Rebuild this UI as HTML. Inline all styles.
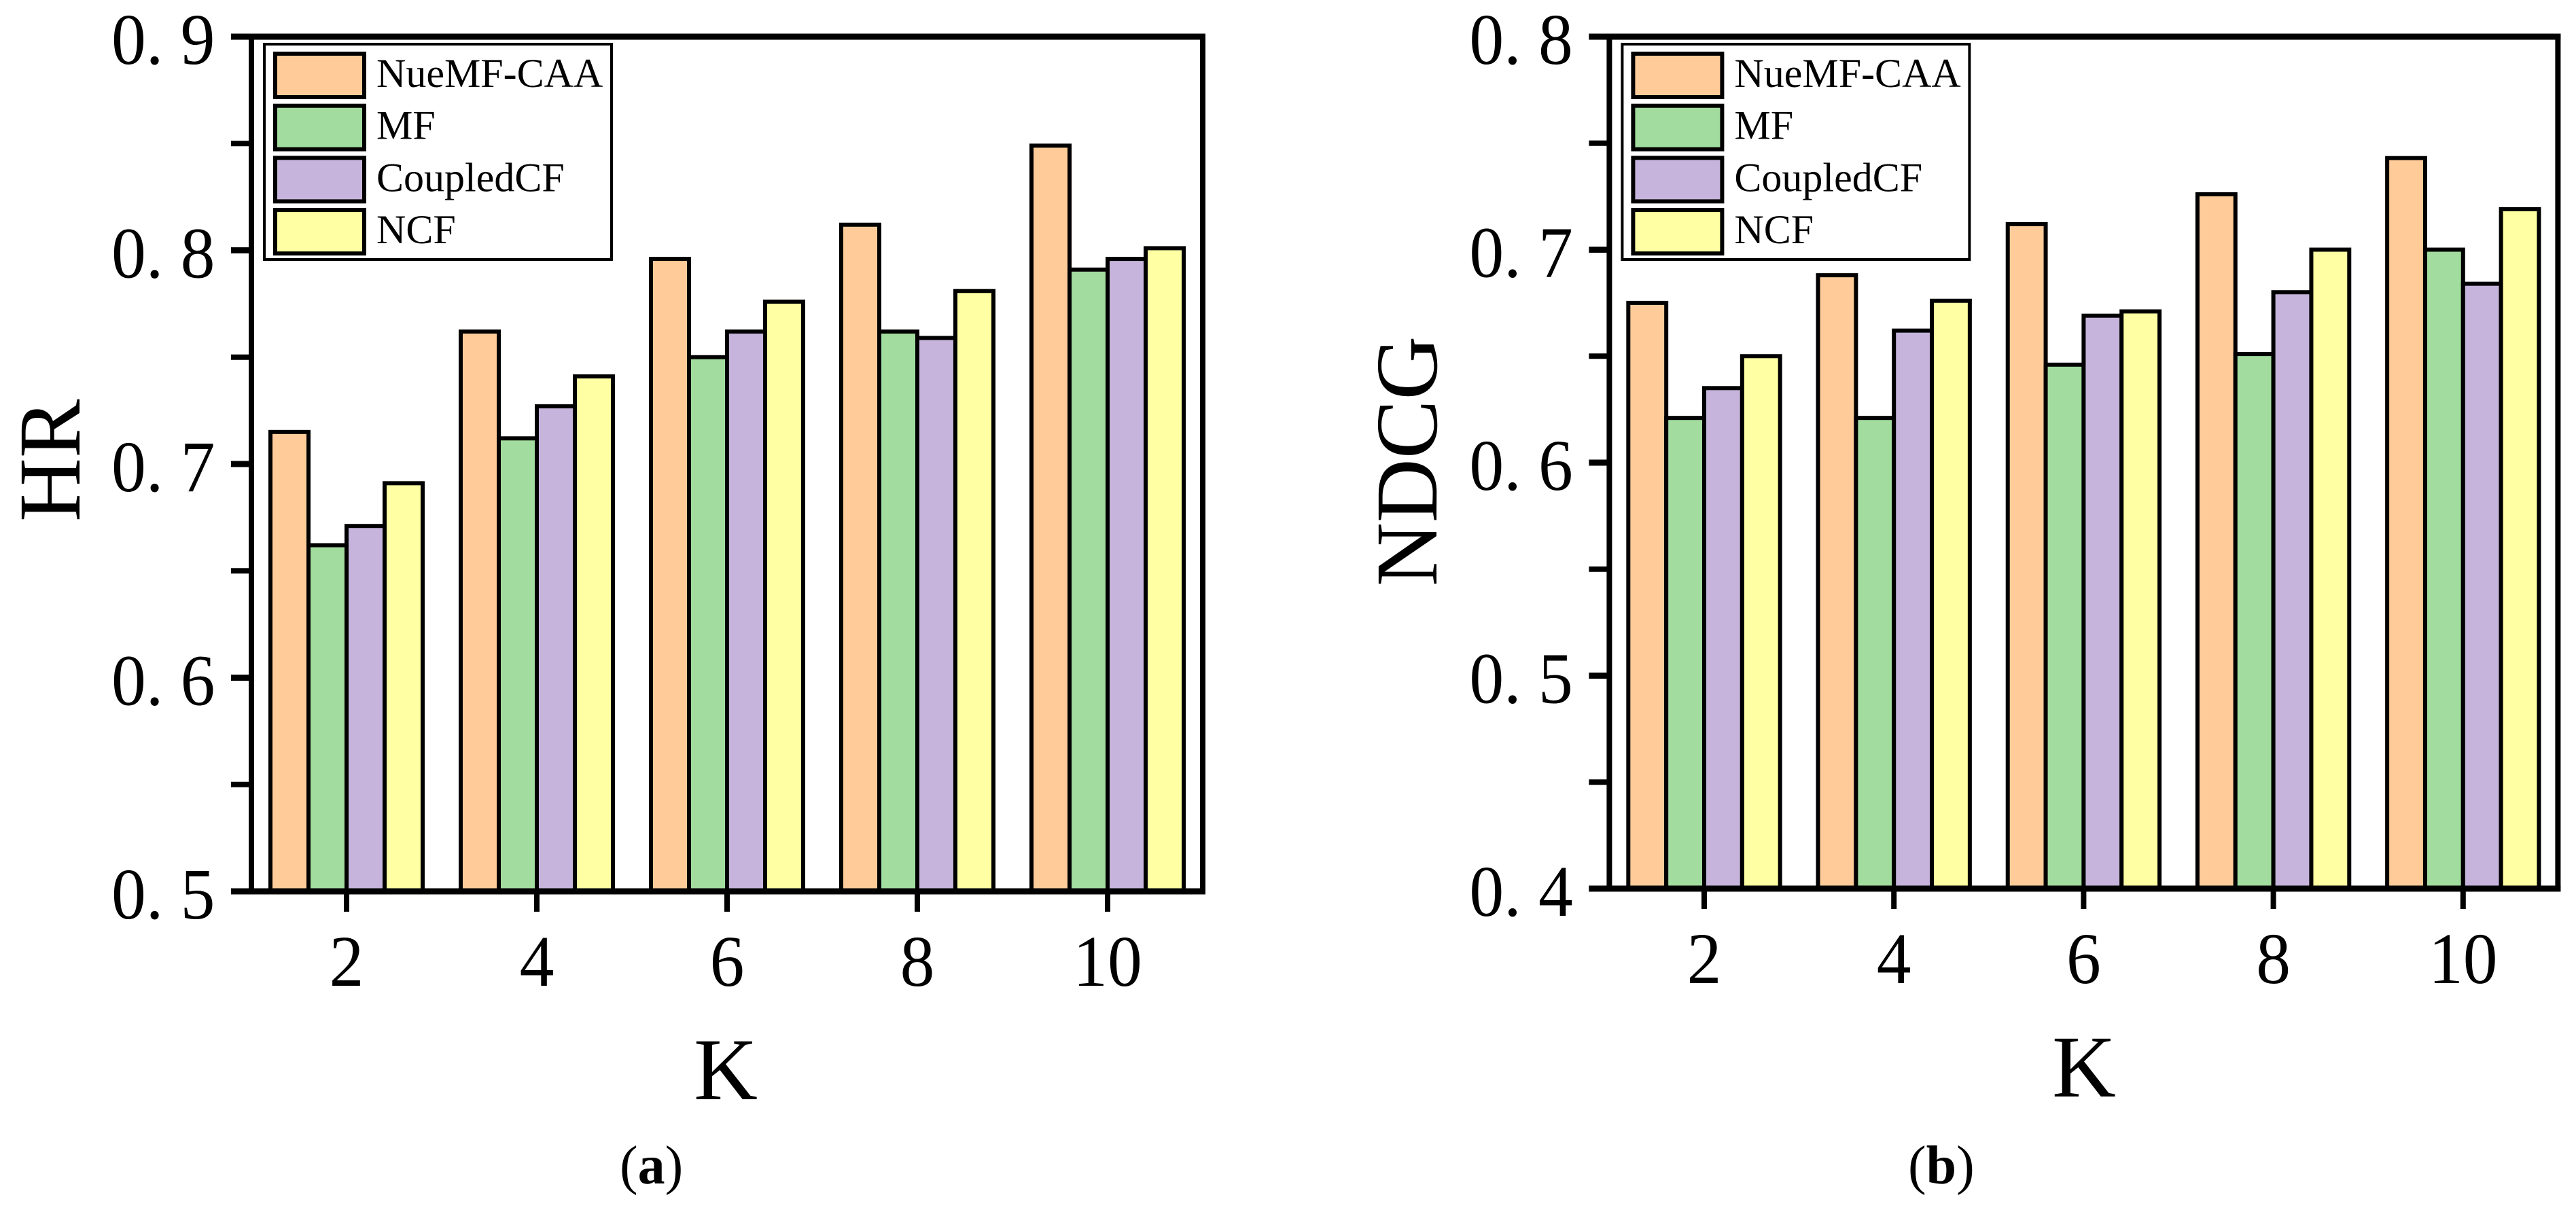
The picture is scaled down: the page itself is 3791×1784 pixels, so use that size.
<!DOCTYPE html>
<html lang="en">
<head>
<meta charset="utf-8">
<title>HR and NDCG by K</title>
<style>
  html, body { margin: 0; padding: 0; background: #fff; }
  body { width: 3791px; height: 1784px; overflow: hidden; }
  svg { display: block; }
  text { font-family: "Liberation Serif", serif; fill: #000; }
</style>
</head>
<body>
<svg id="figure" xmlns="http://www.w3.org/2000/svg" width="3791" height="1784" viewBox="0 0 3791 1784">
  <rect x="0" y="0" width="3791" height="1784" fill="#ffffff"/>
  <text transform="translate(117 768) rotate(-90)" font-size="130">HR</text>
  <text x="1068" y="1618" font-size="130" text-anchor="middle">K</text>
  <text x="912" y="1742" font-size="80">(<tspan font-weight="bold">a</tspan>)</text>
  <text transform="translate(2114 863) rotate(-90)" font-size="130">NDCG</text>
  <text x="3067" y="1614" font-size="130" text-anchor="middle">K</text>
  <text x="2808" y="1742" font-size="80">(<tspan font-weight="bold">b</tspan>)</text>
</svg>
<script>
// Shared chart data
const categories = [2, 4, 6, 8, 10];
const seriesNames = ['NueMF-CAA', 'MF', 'CoupledCF', 'NCF'];
const seriesColors = ['#FFCC99', '#A2DC9E', '#C6B4DC', '#FFFFA3'];

// Panel (a): HR
const hrNueMF = [0.715, 0.762, 0.796, 0.812, 0.849];
const hrMF = [0.662, 0.712, 0.750, 0.762, 0.791];
const hrCoupled = [0.671, 0.727, 0.762, 0.759, 0.796];
const hrNCF = [0.691, 0.741, 0.776, 0.781, 0.801];
const hrMajorTicks = [0.5, 0.6, 0.7, 0.8, 0.9];
const hrMinorTicks = [0.55, 0.65, 0.75, 0.85];
const hrTickLabels = ['0. 5', '0. 6', '0. 7', '0. 8', '0. 9'];

// Panel (b): NDCG
const ndcgNueMF = [0.675, 0.688, 0.712, 0.726, 0.743];
const ndcgMF = [0.621, 0.621, 0.646, 0.651, 0.700];
const ndcgCoupled = [0.635, 0.662, 0.669, 0.680, 0.684];
const ndcgNCF = [0.650, 0.676, 0.671, 0.700, 0.719];
const ndcgMajorTicks = [0.4, 0.5, 0.6, 0.7, 0.8];
const ndcgMinorTicks = [0.45, 0.55, 0.65, 0.75];
const ndcgTickLabels = ['0. 4', '0. 5', '0. 6', '0. 7', '0. 8'];

const NS = 'http://www.w3.org/2000/svg';
const figure = document.getElementById('figure');

function make(parent, tag, attrs) {
  const node = document.createElementNS(NS, tag);
  Object.keys(attrs).forEach(function (k) { node.setAttribute(k, attrs[k]); });
  parent.appendChild(node);
  return node;
}

function drawPanel(cfg) {
  const x = function (k) { return cfg.xAtTwo + (k - 2) * cfg.unit; };
  const y = function (v) { return cfg.bottom - (v - cfg.yMin) / (cfg.yMax - cfg.yMin) * (cfg.bottom - cfg.top); };
  const barWidth = cfg.unit * 0.4;
  const left = x(1);
  const right = x(11);

  const panel = make(figure, 'g', {});
  
  

  // Bars
  cfg.series.forEach(function (values, s) {
    values.forEach(function (v, c) {
      const bx = x(categories[c]) + (s - 2) * barWidth;
      const bar = make(panel, 'rect', {
        x: bx, y: y(v), width: barWidth, height: cfg.bottom - y(v),
        fill: seriesColors[s], stroke: '#000', 'stroke-width': 6
      });
      
      
    });
  });

  // Frame
  const frame = make(panel, 'rect', {
    x: left, y: cfg.top, width: right - left, height: cfg.bottom - cfg.top,
    fill: 'none', stroke: '#000', 'stroke-width': 8
  });
  
  

  // Top and bottom are drawn heavier, as in the source figure
  const topEdge = make(panel, 'line', { x1: left - 30, x2: right + 4, y1: cfg.top, y2: cfg.top, stroke: '#000', 'stroke-width': 9 });
  
  
  const bottomEdge = make(panel, 'line', { x1: left - 30, x2: right + 4, y1: cfg.bottom, y2: cfg.bottom, stroke: '#000', 'stroke-width': 9 });
  
  

  // Y ticks
  cfg.majorTicks.forEach(function (v, i) {
    const tick = make(panel, 'line', { x1: left - 30, x2: left, y1: y(v), y2: y(v), stroke: '#000', 'stroke-width': 9 });
    
    
    const label = make(panel, 'text', { transform: 'translate(' + (left - 206) + ' ' + (y(v) + 40) + ') scale(0.95 1)', 'font-size': 107 });
    label.textContent = cfg.tickLabels[i];
    label.setAttribute('xml:space', 'preserve');
    
    
  });
  cfg.minorTicks.forEach(function (v) {
    const tick = make(panel, 'line', { x1: left - 30, x2: left, y1: y(v), y2: y(v), stroke: '#000', 'stroke-width': 8 });
    
    
  });

  // X ticks
  categories.forEach(function (k) {
    const tick = make(panel, 'line', { x1: x(k), x2: x(k), y1: cfg.bottom, y2: cfg.bottom + 30, stroke: '#000', 'stroke-width': 8 });
    
    
    const label = make(panel, 'text', { transform: 'translate(' + x(k) + ' ' + (cfg.bottom + 139) + ') scale(0.95 1)', 'font-size': 107, 'text-anchor': 'middle' });
    label.textContent = String(k);
    
    
  });

  // Legend
  const legend = make(panel, 'g', {});
  
  
  const legendBox = make(legend, 'rect', {
    x: left + 19, y: 65, width: 511, height: 317,
    fill: '#fff', stroke: '#000', 'stroke-width': 4
  });
  
  
  seriesNames.forEach(function (name, i) {
    const rowTop = 79 + i * 76.7;
    const swatch = make(legend, 'rect', {
      x: left + 35, y: rowTop, width: 131, height: 64,
      fill: seriesColors[i], stroke: '#000', 'stroke-width': 6
    });
    
    
    const label = make(legend, 'text', { x: left + 184, y: rowTop + 49, 'font-size': 60 });
    label.textContent = name;
    
    
  });
}

drawPanel({
  name: 'hr', xAtTwo: 510, unit: 140, top: 54, bottom: 1312, yMin: 0.5, yMax: 0.9,
  series: [hrNueMF, hrMF, hrCoupled, hrNCF],
  majorTicks: hrMajorTicks, minorTicks: hrMinorTicks, tickLabels: hrTickLabels
});
drawPanel({
  name: 'ndcg', xAtTwo: 2508, unit: 139.6, top: 54, bottom: 1308, yMin: 0.4, yMax: 0.8,
  series: [ndcgNueMF, ndcgMF, ndcgCoupled, ndcgNCF],
  majorTicks: ndcgMajorTicks, minorTicks: ndcgMinorTicks, tickLabels: ndcgTickLabels
});
</script>
</body>
</html>
